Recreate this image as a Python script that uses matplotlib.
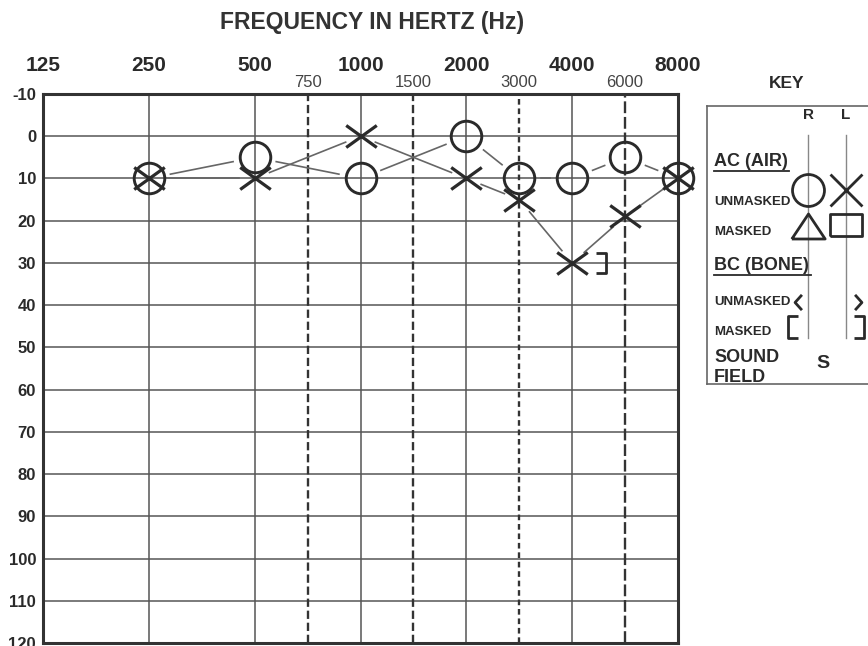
import numpy as np
import matplotlib.pyplot as plt
from matplotlib.path import Path
from matplotlib.lines import Line2D

plt.rcParams['font.family'] = ['Liberation Sans', 'DejaVu Sans']
plt.rcParams['axes.unicode_minus'] = False

# audiogram data (dB HL)
freqs = [250, 500, 1000, 2000, 3000, 4000, 6000, 8000]
right_ac = [10, 5, 10, 0, 10, 10, 5, 10]      # O
left_ac = [10, 10, 0, 10, 15, 30, 19, 10]     # X
left_bc_masked_f = [4000]                     # ]
left_bc_masked = [30]

octave_freqs = [125, 250, 500, 1000, 2000, 4000, 8000]
inter_freqs = [750, 1500, 3000, 6000]
levels = list(range(-10, 121, 10))

# position on the chart: octaves evenly spaced, inter-octaves halfway
pos = {f: i for i, f in enumerate(octave_freqs)}
pos.update({750: 2.5, 1500: 3.5, 3000: 4.5, 6000: 5.5})

ink = '#2a2a2a'

# custom symbols
x_mark = Path([(-1, -0.72), (1, 0.72), (-1, 0.72), (1, -0.72)],
              [Path.MOVETO, Path.LINETO, Path.MOVETO, Path.LINETO])
x_key = Path([(-1, -1), (1, 1), (-1, 1), (1, -1)],
             [Path.MOVETO, Path.LINETO, Path.MOVETO, Path.LINETO])
rbracket = Path([(-0.45, 1), (0.45, 1), (0.45, -1), (-0.45, -1)])
lbracket = Path([(0.45, 1), (-0.45, 1), (-0.45, -1), (0.45, -1)])
lt = Path([(0.45, 1), (-0.45, 0), (0.45, -1)])
gt = Path([(-0.45, 1), (0.45, 0), (-0.45, -1)])
tri = Path([(-1, -0.75), (1, -0.75), (0, 0.75), (-1, -0.75)])
rect = Path([(-1, -0.68), (1, -0.68), (1, 0.68), (-1, 0.68), (-1, -0.68)])

fig = plt.figure(figsize=(8.68, 6.46), dpi=100)
ax = fig.add_axes([43/868, 3/646, 635/868, 549/646])
ax.set_xlim(0, 6)
ax.set_ylim(120, -10)

# grid
for lv in levels:
    ax.axhline(lv, color='#7a7a7a', lw=1.4, zorder=1)
for f in octave_freqs[1:-1]:
    ax.axvline(pos[f], color='#555555', lw=1.1, zorder=1)
dash_styles = {750: (0, (3.5, 1.6)), 1500: (0, (3.5, 1.6)),
               3000: (0, (2.4, 1.6)), 6000: (0, (5, 1.6))}
for f in inter_freqs:
    ax.axvline(pos[f], color='#333333', lw=1.7, ls=dash_styles[f], zorder=1)

for s in ax.spines.values():
    s.set_linewidth(2.2)
    s.set_color('#333333')

ax.xaxis.tick_top()
ax.set_xticks([pos[f] for f in octave_freqs], labels=[str(f) for f in octave_freqs])
ax.set_xticks([pos[f] for f in inter_freqs], labels=[str(f) for f in inter_freqs], minor=True)
ax.tick_params(axis='x', which='major', length=0, pad=14, labelsize=15, labelcolor=ink)
ax.tick_params(axis='x', which='minor', length=0, pad=3, labelsize=12, labelcolor='#444444')
for lbl in ax.get_xticklabels():
    lbl.set_fontweight('bold')
ax.set_yticks(levels)
ax.tick_params(axis='y', length=0, pad=5, labelsize=12, labelcolor=ink)
for lbl in ax.get_yticklabels():
    lbl.set_fontweight('bold')

fig.text(372/868, 1 - 22/646, 'FREQUENCY IN HERTZ (Hz)', ha='center', va='center',
         fontsize=16.5, fontweight='bold', color='#333333')


def connect(xs, ys, gap):
    # thin joining lines that stop short of the symbols
    pts = ax.transData.transform(np.column_stack([xs, ys]))
    inv = ax.transData.inverted()
    for p, q in zip(pts[:-1], pts[1:]):
        d = q - p
        u = d / np.hypot(*d)
        a, b = inv.transform([p + u * gap, q - u * gap])
        ax.add_line(Line2D([a[0], b[0]], [a[1], b[1]], color='#666666', lw=1.2, zorder=2))


xr = [pos[f] for f in freqs]
connect(xr, right_ac, 22)
connect(xr, left_ac, 16)

ax.plot(xr, right_ac, ls='none', marker='o', ms=22, mfc='none', mec=ink, mew=2.1,
        zorder=3, clip_on=False)
ax.plot(xr, left_ac, ls='none', marker=x_mark, ms=22, mec=ink, mew=2.3,
        zorder=3, clip_on=False)
ax.plot([pos[f] + 0.27 for f in left_bc_masked_f], left_bc_masked, ls='none',
        marker=rbracket, ms=15, mfc='none', mec=ink, mew=2, zorder=3)

# key
fig.text(787/868, 1 - 83/646, 'KEY', ha='center', va='center', fontsize=12.5,
         fontweight='bold', color=ink)
k = fig.add_axes([707/868, 1 - 384/646, 170/868, 278/646])
k.set_xlim(707, 877)
k.set_ylim(384, 106)
k.set_xticks([])
k.set_yticks([])
for s in k.spines.values():
    s.set_color('#666666')
    s.set_linewidth(1.2)
k.spines['right'].set_visible(False)

k.plot([808, 808], [135, 338], color='#888888', lw=1)
k.plot([846, 846], [135, 338], color='#888888', lw=1)
k.text(808, 115, 'R', ha='center', va='center', fontsize=11, fontweight='bold', color=ink)
k.text(846, 115, 'L', ha='center', va='center', fontsize=11, fontweight='bold', color=ink)

labels = [('AC (AIR)', 162, 13), ('UNMASKED', 202, 9.5), ('MASKED', 232, 9.5),
          ('BC (BONE)', 266, 13), ('UNMASKED', 302, 9.5), ('MASKED', 332, 9.5),
          ('SOUND', 357, 13), ('FIELD', 377, 13)]
for txt, yy, fs in labels:
    k.text(714, yy, txt, ha='left', va='center', fontsize=fs, fontweight='bold', color=ink)
k.plot([714, 789], [171, 171], color=ink, lw=1.3)
k.plot([714, 811], [275, 275], color=ink, lw=1.3)

k.plot(808, 190, marker='o', ms=23, mfc='none', mec=ink, mew=2)
k.plot(846, 190, marker=x_key, ms=23, mec=ink, mew=2)
k.plot(808, 226, marker=tri, ms=24, mfc='none', mec=ink, mew=2)
k.plot(846, 225, marker=rect, ms=23, mfc='none', mec=ink, mew=2)
k.plot(798, 302, marker=lt, ms=11, mfc='none', mec=ink, mew=2)
k.plot(858, 302, marker=gt, ms=11, mfc='none', mec=ink, mew=2)
k.plot(793, 327, marker=lbracket, ms=16.5, mfc='none', mec=ink, mew=2)
k.plot(859, 327, marker=rbracket, ms=16.5, mfc='none', mec=ink, mew=2)
k.text(823, 364, 'S', ha='center', va='center', fontsize=14, fontweight='bold', color=ink)

fig.savefig('out.png', dpi=100)
